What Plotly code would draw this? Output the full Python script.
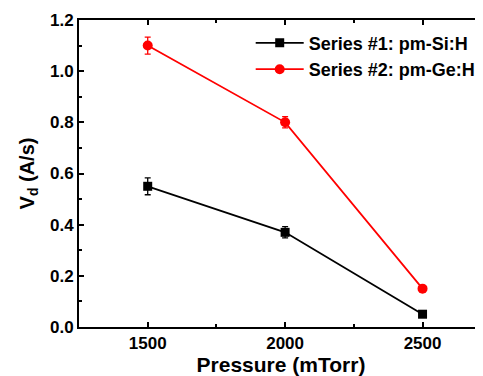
import plotly.graph_objects as go

pressure = [1500, 2000, 2500]
series1_name = "Series #1: pm-Si:H"
series1_vals = [0.55, 0.37, 0.05]
series1_err = [0.033, 0.022, 0.0]
series2_name = "Series #2: pm-Ge:H"
series2_vals = [1.10, 0.80, 0.15]
series2_err = [0.033, 0.022, 0.0]

font_family = "Liberation Sans, Arial, sans-serif"

fig = go.Figure()
fig.add_trace(go.Scatter(
    x=pressure, y=series1_vals, name=series1_name, mode="lines+markers",
    line=dict(color="black", width=1.8),
    marker=dict(symbol="square", size=9, color="black"),
    error_y=dict(type="data", array=series1_err, visible=True, color="black", thickness=1.3, width=3),
))
fig.add_trace(go.Scatter(
    x=pressure, y=series2_vals, name=series2_name, mode="lines+markers",
    line=dict(color="#ff0000", width=1.8),
    marker=dict(symbol="circle", size=10, color="#ff0000"),
    error_y=dict(type="data", array=series2_err, visible=True, color="#ff0000", thickness=1.3, width=3),
))

# page has an 8px body margin, so the figure is offset by 8px
fig.update_layout(
    width=475, height=368,
    margin=dict(l=71, r=0, t=12, b=49, autoexpand=False),
    paper_bgcolor="white", plot_bgcolor="white",
    font=dict(family=font_family, color="black"),
    showlegend=True,
    legend=dict(
        x=0.425, y=0.985, xanchor="left", yanchor="top",
        bgcolor="rgba(0,0,0,0)",
        font=dict(size=18, family=font_family, color="black", weight="bold"),
        tracegroupgap=0, itemwidth=48,
    ),
)
fig.update_xaxes(
    range=[1250, 2720], tickvals=pressure, ticktext=[str(p) for p in pressure],
    showgrid=False, zeroline=False, automargin=False,
    showline=True, linecolor="black", linewidth=2, mirror="allticks",
    ticks="inside", ticklen=5, tickwidth=2, tickcolor="black",
    minor=dict(dtick=250, tick0=1250, ticks="inside", ticklen=3, tickwidth=2, tickcolor="black"),
    tickfont=dict(size=17, family=font_family, weight="bold"),
    title=dict(text="Pressure (mTorr)", font=dict(size=21, family=font_family, weight="bold"), standoff=4),
)
fig.update_yaxes(
    range=[0, 1.2], dtick=0.2, tickformat=".1f",
    showgrid=False, zeroline=False, automargin=False,
    showline=True, linecolor="black", linewidth=2, mirror=False,
    ticks="inside", ticklen=5, tickwidth=2, tickcolor="black",
    minor=dict(dtick=0.1, ticks="inside", ticklen=3, tickwidth=2, tickcolor="black"),
    tickfont=dict(size=17, family=font_family, weight="bold"),
    title=dict(text="V<sub>d</sub> (A/s)", font=dict(size=20, family=font_family, weight="bold"), standoff=10),
)

fig.write_html("out.html")
